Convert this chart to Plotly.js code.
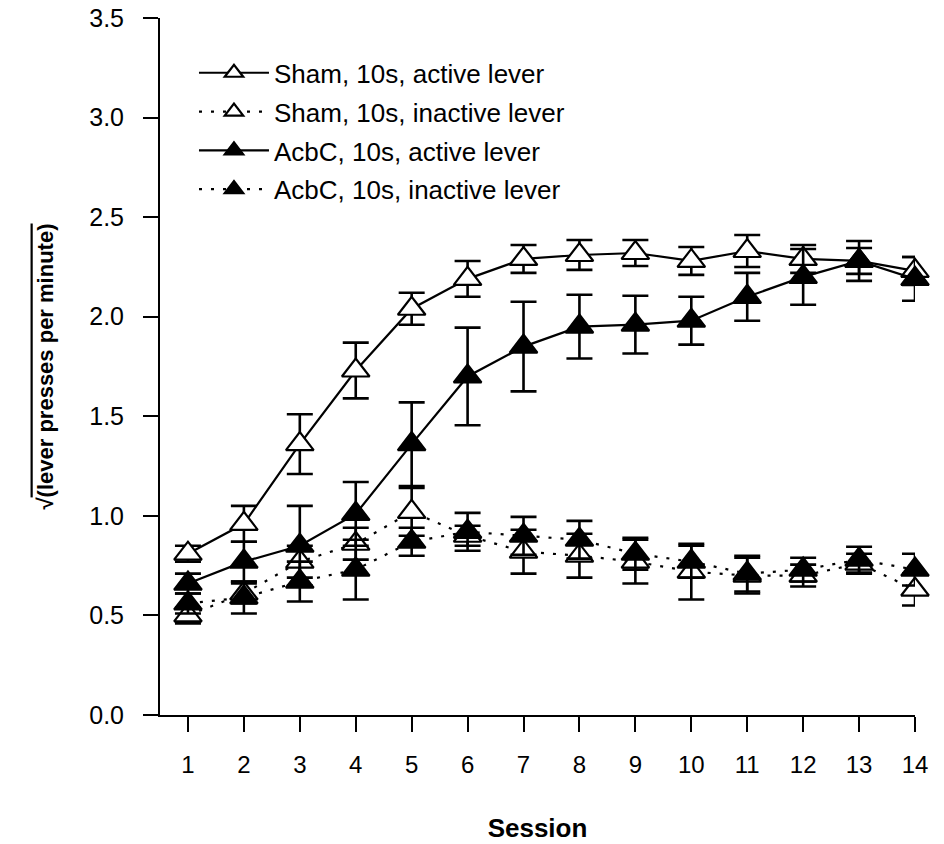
<!DOCTYPE html>
<html>
<head>
<meta charset="utf-8">
<script src="https://cdn.plot.ly/plotly-3.0.1.min.js"></script>
<style>html,body{margin:0;padding:0;background:#fff;}</style>
</head>
<body>
<div id="chart" style="width:944px;height:844px;"></div>
<script>
const sessions = [1,2,3,4,5,6,7,8,9,10,11,12,13,14];

const shamActive    = [0.81,0.96,1.36,1.73,2.04,2.19,2.29,2.31,2.32,2.28,2.33,2.29,2.28,2.23];
const shamActiveErr = [0.04,0.09,0.15,0.14,0.08,0.09,0.07,0.075,0.065,0.07,0.08,0.07,0.065,0.07];

const shamInactive    = [0.50,0.61,0.77,0.86,1.02,0.90,0.82,0.80,0.77,0.72,0.70,0.70,0.76,0.63];
const shamInactiveErr = [0.04,0.05,0.08,0.08,0.12,0.05,0.11,0.11,0.11,0.14,0.09,0.055,0.05,0.08];

const acbcActive    = [0.66,0.77,0.85,1.01,1.36,1.70,1.85,1.95,1.96,1.98,2.10,2.20,2.28,2.19];
const acbcActiveErr = [0.05,0.10,0.20,0.16,0.21,0.245,0.225,0.16,0.145,0.12,0.12,0.14,0.10,0.11];

const acbcInactive    = [0.56,0.59,0.67,0.73,0.87,0.92,0.90,0.88,0.81,0.77,0.71,0.73,0.78,0.73];
const acbcInactiveErr = [0.05,0.08,0.10,0.15,0.07,0.095,0.095,0.095,0.08,0.08,0.09,0.06,0.065,0.08];

const names = ["Sham, 10s, active lever","Sham, 10s, inactive lever","AcbC, 10s, active lever","AcbC, 10s, inactive lever"];
const yTickVals = [0,0.5,1,1.5,2,2.5,3,3.5];
const yTickText = ["0.0","0.5","1.0","1.5","2.0","2.5","3.0","3.5"];

function mk(name, y, err, filled, dotted, grp){
  return {
    type:'scatter', mode:'lines+markers', name:name, legendgroup:grp,
    x:sessions, y:y, cliponaxis:false,
    line:{color:'#000', width:2.2, dash: dotted ? '3px,9px' : 'solid'},
    marker:{symbol:'triangle-up', size:24, color: filled ? '#000' : '#fff',
            line:{color:'#000', width:2.2}},
    error_y:{type:'data', array:err, visible:true, color:'#000', thickness:2.6, width:13}
  };
}

const data = [
  mk(names[0], shamActive, shamActiveErr, false, false, 'g1'),
  mk(names[1], shamInactive, shamInactiveErr, false, true, 'g2'),
  mk(names[2], acbcActive, acbcActiveErr, true, false, 'g3'),
  mk(names[3], acbcInactive, acbcInactiveErr, true, true, 'g4')
];

const layout = {
  width:944, height:844,
  margin:{l:160, r:29, t:18, b:129},
  paper_bgcolor:'#fff', plot_bgcolor:'#fff',
  showlegend:true,
  legend:{x:0.045, y:0.955, xanchor:'left', yanchor:'top', bgcolor:'rgba(0,0,0,0)',
          font:{family:'Liberation Sans, Arial, sans-serif', size:26, color:'#000'},
          itemwidth:70, tracegroupgap:2},
  xaxis:{
    range:[0.5,14], tickvals:sessions, ticktext:sessions.map(String),
    showgrid:false, zeroline:false, showline:true, linecolor:'#000', linewidth:2,
    ticks:'outside', ticklen:15, tickwidth:2, tickcolor:'#000',
    ticklabelstandoff:12,
    tickfont:{family:'Liberation Sans Narrow, Arial Narrow, Liberation Sans, sans-serif', size:24, color:'#000'},
    title:{text:'<b>Session</b>', standoff:42,
           font:{family:'Liberation Sans Narrow, Arial Narrow, Liberation Sans, sans-serif', size:26, color:'#000'}},
    automargin:false
  },
  yaxis:{
    range:[0,3.5], tickvals:yTickVals, ticktext:yTickText,
    showgrid:false, zeroline:false, showline:true, linecolor:'#000', linewidth:2,
    ticks:'outside', ticklen:15, tickwidth:2, tickcolor:'#000',
    ticklabelstandoff:14,
    tickfont:{family:'Liberation Sans, Arial, sans-serif', size:25, color:'#000'},
    title:{text:"<b>√<span style='text-decoration:overline'>(lever presses per minute)</span></b>", standoff:30,
           font:{family:'Liberation Sans Narrow, Arial Narrow, Liberation Sans, sans-serif', size:22, color:'#000'}},
    automargin:false
  }
};

Plotly.newPlot('chart', data, layout, {displayModeBar:false, staticPlot:true});
</script>
</body>
</html>
